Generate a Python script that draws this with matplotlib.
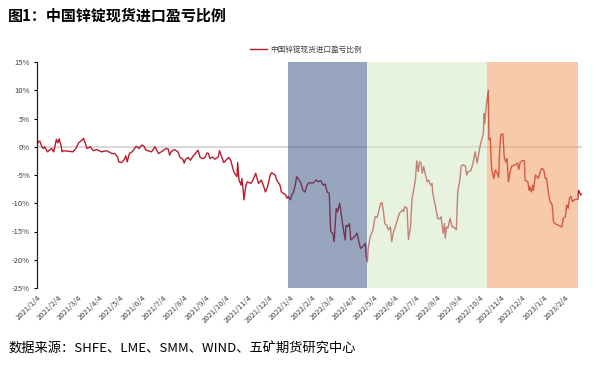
import pandas as pd
import matplotlib
matplotlib.use("Agg")
import matplotlib.pyplot as plt

plt.rcParams['font.family'] = ['Noto Sans CJK SC', 'DejaVu Sans']
plt.rcParams['axes.unicode_minus'] = False

# 中国锌锭现货进口盈亏比例 (%)
dates = [
    "2021-01-04", "2021-01-06", "2021-01-08", "2021-01-11", "2021-01-13", "2021-01-15",
    "2021-01-19", "2021-01-25", "2021-01-28", "2021-02-01", "2021-02-03", "2021-02-05",
    "2021-02-08", "2021-02-09", "2021-02-11", "2021-02-25", "2021-03-01", "2021-03-05",
    "2021-03-10", "2021-03-12", "2021-03-16", "2021-03-17", "2021-03-22", "2021-03-26",
    "2021-03-31", "2021-04-07", "2021-04-14", "2021-04-22", "2021-04-26", "2021-04-30",
    "2021-05-02", "2021-05-06", "2021-05-10", "2021-05-12", "2021-05-14", "2021-05-17",
    "2021-05-21", "2021-05-27", "2021-05-31", "2021-06-04", "2021-06-07", "2021-06-10",
    "2021-06-18", "2021-06-23", "2021-06-28", "2021-07-02", "2021-07-09", "2021-07-12",
    "2021-07-14", "2021-07-16", "2021-07-21", "2021-07-26", "2021-07-29", "2021-08-02",
    "2021-08-04", "2021-08-06", "2021-08-10", "2021-08-13", "2021-08-17", "2021-08-20",
    "2021-08-24", "2021-08-27", "2021-08-31", "2021-09-03", "2021-09-06", "2021-09-08",
    "2021-09-10", "2021-09-14", "2021-09-17", "2021-09-22", "2021-09-24", "2021-09-27",
    "2021-09-30", "2021-10-03", "2021-10-07", "2021-10-10", "2021-10-13", "2021-10-15",
    "2021-10-19", "2021-10-20", "2021-10-22", "2021-10-25", "2021-10-26", "2021-10-28",
    "2021-10-29", "2021-11-01", "2021-11-03", "2021-11-08", "2021-11-11", "2021-11-15",
    "2021-11-17", "2021-11-19", "2021-11-23", "2021-11-26", "2021-11-29", "2021-12-02",
    "2021-12-06", "2021-12-08", "2021-12-13", "2021-12-15", "2021-12-17", "2021-12-20",
    "2021-12-22", "2021-12-28", "2021-12-30", "2022-01-01", "2022-01-04", "2022-01-06",
    "2022-01-08", "2022-01-11", "2022-01-13", "2022-01-15", "2022-01-19", "2022-01-22",
    "2022-01-25", "2022-01-28", "2022-01-30", "2022-02-06", "2022-02-10", "2022-02-13",
    "2022-02-17", "2022-02-20", "2022-02-23", "2022-02-26", "2022-03-01", "2022-03-03",
    "2022-03-06", "2022-03-08", "2022-03-11", "2022-03-13", "2022-03-16", "2022-03-18",
    "2022-03-19", "2022-03-21", "2022-03-24", "2022-03-25", "2022-03-27", "2022-03-30",
    "2022-04-01", "2022-04-04", "2022-04-07", "2022-04-10", "2022-04-12", "2022-04-15",
    "2022-04-17", "2022-04-19", "2022-04-22", "2022-04-23", "2022-04-25", "2022-04-26",
    "2022-04-29", "2022-05-03", "2022-05-06", "2022-05-09", "2022-05-11", "2022-05-14",
    "2022-05-16", "2022-05-18", "2022-05-20", "2022-05-23", "2022-05-25", "2022-05-28",
    "2022-05-30", "2022-06-01", "2022-06-04", "2022-06-07", "2022-06-10", "2022-06-14",
    "2022-06-16", "2022-06-18", "2022-06-21", "2022-06-23", "2022-06-26", "2022-06-28",
    "2022-06-30", "2022-07-03", "2022-07-05", "2022-07-07", "2022-07-09", "2022-07-11",
    "2022-07-13", "2022-07-15", "2022-07-17", "2022-07-20", "2022-07-22", "2022-07-25",
    "2022-07-27", "2022-07-28", "2022-08-01", "2022-08-04", "2022-08-07", "2022-08-09",
    "2022-08-12", "2022-08-14", "2022-08-15", "2022-08-17", "2022-08-19", "2022-08-22",
    "2022-08-25", "2022-08-27", "2022-08-31", "2022-09-02", "2022-09-05", "2022-09-07",
    "2022-09-10", "2022-09-13", "2022-09-15", "2022-09-17", "2022-09-21", "2022-09-24",
    "2022-09-27", "2022-09-30", "2022-10-02", "2022-10-04", "2022-10-07", "2022-10-09",
    "2022-10-10", "2022-10-11", "2022-10-13", "2022-10-16", "2022-10-17", "2022-10-19",
    "2022-10-20", "2022-10-21", "2022-10-24", "2022-10-26", "2022-10-29", "2022-10-31",
    "2022-11-01", "2022-11-03", "2022-11-06", "2022-11-08", "2022-11-10", "2022-11-12",
    "2022-11-14", "2022-11-17", "2022-11-19", "2022-11-24", "2022-11-27", "2022-11-29",
    "2022-12-01", "2022-12-05", "2022-12-07", "2022-12-08", "2022-12-12", "2022-12-14",
    "2022-12-15", "2022-12-17", "2022-12-19", "2022-12-20", "2022-12-23", "2022-12-25",
    "2022-12-27", "2022-12-30", "2023-01-01", "2023-01-04", "2023-01-06", "2023-01-08",
    "2023-01-11", "2023-01-13", "2023-01-16", "2023-01-18", "2023-01-20", "2023-01-25",
    "2023-01-30", "2023-02-01", "2023-02-04", "2023-02-06", "2023-02-08", "2023-02-10",
    "2023-02-12", "2023-02-14", "2023-02-17", "2023-02-20", "2023-02-22", "2023-02-23",
    "2023-02-26", "2023-02-28",
]
ratio = [
    0.3, 0.9, 1.0, 0.0, -0.3, 0.0,
    -0.9, -0.3, -0.9, 1.3, 0.7, 1.4,
    0.0, -0.9, -0.7, -0.9, -0.3, 0.7,
    1.2, 1.5, 0.1, -0.3, 0.0, -0.7,
    -0.5, -0.9, -0.7, -1.2, -1.2, -1.8,
    -2.7, -2.8, -2.2, -1.6, -2.7, -1.2,
    -0.9, 0.1, -0.3, 0.3, 0.1, -0.6,
    -0.9, 0.0, -1.2, -0.9, -0.3, -0.4,
    -1.5, -0.9, -0.5, -0.9, -1.9, -2.2,
    -2.9, -2.2, -1.9, -2.4, -1.6, -1.2,
    -0.6, -1.9, -2.1, -1.9, -1.1, -1.2,
    -2.1, -1.8, -2.2, -1.8, -0.7, -1.8,
    -2.8, -2.4, -1.9, -2.4, -3.8, -4.6,
    -5.3, -2.8, -5.9, -6.8, -5.6, -7.7,
    -9.4, -6.8, -6.2, -6.5, -5.9, -4.7,
    -5.6, -6.5, -5.9, -6.8, -8.0, -7.1,
    -5.0, -4.6, -5.0, -5.8, -6.2, -6.8,
    -8.0, -8.5, -9.1, -8.8, -9.4, -8.5,
    -8.2, -6.8, -5.3, -5.6, -6.4, -7.7,
    -8.0, -6.8, -6.4, -6.4, -5.9, -6.2,
    -6.0, -6.8, -6.6, -8.0, -8.3, -15.0,
    -15.3, -16.8, -10.9, -11.5, -10.0, -11.8,
    -12.7, -14.4, -16.5, -13.9, -14.2, -13.6,
    -16.5, -16.2, -15.8, -15.3, -16.5, -18.0,
    -17.8, -17.6, -17.1, -19.2, -20.4, -18.0,
    -15.9, -14.7, -12.4, -12.5, -11.5, -10.0,
    -9.9, -11.5, -13.6, -13.9, -14.7, -14.2,
    -16.8, -15.3, -14.2, -13.0, -11.8, -11.2,
    -11.5, -10.6, -10.9, -16.4, -14.2, -9.4,
    -8.0, -5.9, -2.5, -4.4, -2.7, -2.8,
    -4.7, -3.5, -4.7, -6.2, -5.9, -6.8,
    -6.5, -8.2, -10.6, -12.7, -12.8, -12.4,
    -15.3, -13.6, -16.2, -14.2, -14.4, -12.7,
    -14.2, -14.2, -14.7, -8.0, -5.9, -3.4,
    -3.2, -3.4, -5.0, -4.4, -4.2, -2.9,
    -0.9, -2.9, -1.5, 0.0, 1.5, 2.4,
    5.9, 4.1, 7.1, 10.0, 1.2, 1.5,
    -1.8, -4.1, -5.6, -4.1, -4.7, -5.4,
    -1.5, 2.1, 2.3, -1.8, -2.7, -2.1,
    -6.2, -4.1, -3.4, -3.2, -2.9, -4.0,
    -2.7, -2.4, -2.5, -5.9, -6.2, -7.7,
    -7.1, -8.0, -6.8, -7.7, -5.0, -5.3,
    -5.6, -4.4, -3.8, -4.1, -5.6, -5.6,
    -8.5, -9.7, -10.3, -13.3, -13.6, -13.9,
    -14.2, -12.7, -12.4, -10.3, -10.9, -9.1,
    -8.8, -9.7, -9.4, -9.3, -9.3, -7.7,
    -8.5, -8.4,
]

# shaded periods
span_start = ["2022-01-01", "2022-04-25", "2022-10-14"]
span_end = ["2022-04-25", "2022-10-14", "2023-02-22"]
span_color = ["#314D7F", "#D1E7C1", "#EF9757"]

x = pd.to_datetime(dates)
y = [v / 100 for v in ratio]

fig = plt.figure(figsize=(5.94, 3.65), dpi=100)
ax = fig.add_axes([37 / 594, 1 - 288 / 365, 545 / 594, 226 / 365])

ax.axhline(0, color="#d9d9d9", lw=1.5, zorder=1)
ax.plot(x, y, color="#B81C2C", lw=1.0, zorder=2, label="中国锌锭现货进口盈亏比例")
for s, e, c in zip(span_start, span_end, span_color):
    ax.axvspan(pd.Timestamp(s), pd.Timestamp(e), color=c, alpha=0.5, lw=0, zorder=3)

ax.set_ylim(-0.25, 0.15)
ax.set_yticks([0.15, 0.10, 0.05, 0, -0.05, -0.10, -0.15, -0.20, -0.25])
ax.set_yticklabels(["15%", "10%", "5%", "0%", "-5%", "-10%", "-15%", "-20%", "-25%"])
ax.set_xlim(pd.Timestamp("2021-01-04"), pd.Timestamp("2023-02-28"))

ticks = pd.date_range("2021-01-04", "2023-02-04", freq=pd.DateOffset(months=1))
ax.set_xticks(ticks)
ax.set_xticklabels([f"{d.year}/{d.month}/{d.day}" for d in ticks],
                   rotation=45, ha="right", rotation_mode="anchor")

for s in ["top", "right", "bottom"]:
    ax.spines[s].set_visible(False)
ax.spines["left"].set_color("#222222")
ax.spines["left"].set_linewidth(0.9)
ax.tick_params(axis="y", labelsize=5.5, labelcolor="#404040", length=2, width=0.8, pad=3)
ax.tick_params(axis="x", labelsize=5.5, labelcolor="#404040", length=0, pad=4)

fig.legend(loc="center", bbox_to_anchor=(306 / 594, 1 - 50 / 365), frameon=False,
           fontsize=5.5, handlelength=2.2, handletextpad=0.4, labelcolor="#404040")

fig.text(8 / 594, 1 - 16 / 365, "图1：中国锌锭现货进口盈亏比例", fontsize=10.8,
         fontweight="heavy", va="center", ha="left")
fig.text(8 / 594, 1 - 349 / 365, "数据来源：SHFE、LME、SMM、WIND、五矿期货研究中心",
         fontsize=9.5, va="center", ha="left")

fig.savefig("out.png", dpi=100)
